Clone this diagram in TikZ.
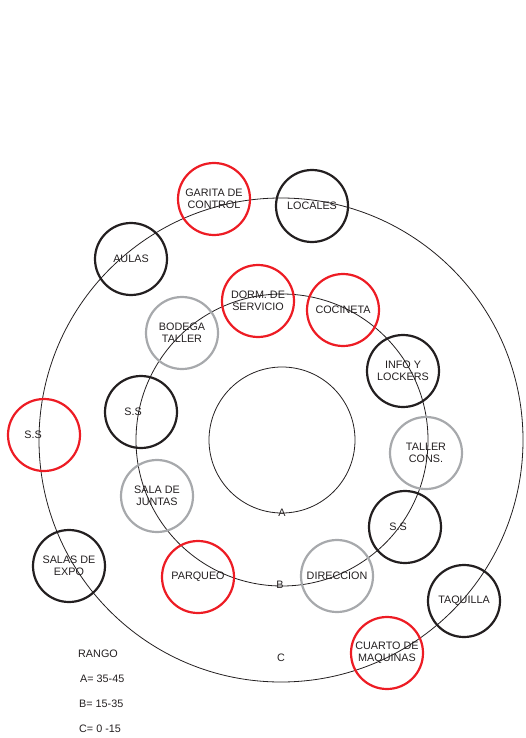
\documentclass[tikz,border=0pt]{standalone}
\usepackage{fontspec}
\setmainfont{Liberation Sans}
\usepackage{tikz}
\usetikzlibrary{positioning}
\definecolor{zonered}{HTML}{ED1C24}
\definecolor{zoneblack}{HTML}{231F20}
\definecolor{zonegray}{HTML}{A7A9AC}
\tikzstyle{ring}      = [circle, draw=zoneblack, line width=0.8pt, inner sep=0pt]
\tikzstyle{room}      = [circle, minimum size=72pt, inner sep=0pt,
    line width=2.2pt, align=center, text=zoneblack,
    font=\fontsize{10.8}{12}\selectfont]
\tikzstyle{redroom}   = [room, draw=zonered]
\tikzstyle{blackroom} = [room, draw=zoneblack]
\tikzstyle{grayroom}  = [room, draw=zonegray]
\tikzstyle{roomtext}  = [inner sep=0pt, text=zoneblack, font=\fontsize{10.8}{12}\selectfont]
\tikzstyle{legend}    = [roomtext, anchor=west]

\begin{document}
\begin{tikzpicture}[x=1pt, y=-1pt]
  \useasboundingbox (0,0) rectangle (525,738);
  % rings
  \node[ring, minimum size=146pt] (ringA) at (282,440) {};
  \node[ring, minimum size=292pt] (ringB) at (282,440) {};
  \node[ring, minimum size=484pt] (ringC) at (281,440) {};
  \node[roomtext] (labA) at (282,513) {A};
  \node[roomtext] (labB) at (280,585) {B};
  \node[roomtext] (labC) at (281,658) {C};

  % outer ring
  \node[redroom]   (garita)  at (214,199) {GARITA DE\\CONTROL};
  \node[blackroom] (locales) at (312,206) {LOCALES};
  \node[blackroom] (aulas)   at (131,259) {AULAS};
  \node[redroom]   (ssC)     at (44,435)  {};
  \node[roomtext, xshift=-11pt] at (ssC) {S.S};
  \node[blackroom] (expo)    at (69,566)  {SALAS DE\\EXPO};
  \node[blackroom] (taquilla) at (464,601) {TAQUILLA};
  \node[redroom]   (cuarto)  at (387,653) {CUARTO DE\\MAQUINAS};

  % middle ring
  \node[redroom]   (dorm)    at (258,301) {DORM. DE\\SERVICIO};
  \node[redroom]   (cocineta) at (343,310) {COCINETA};
  \node[grayroom]  (bodega)  at (182,333) {BODEGA\\TALLER};
  \node[blackroom] (info)    at (403,371) {INFO Y\\LOCKERS};
  \node[blackroom] (ssB)     at (141,412) {};
  \node[roomtext, xshift=-8pt] at (ssB) {S.S};
  \node[grayroom]  (tallerc) at (426,453) {TALLER\\CONS.};
  \node[grayroom]  (juntas)  at (157,496) {SALA DE\\JUNTAS};
  \node[blackroom] (ssA)     at (405,527) {};
  \node[roomtext, xshift=-7pt] at (ssA) {S.S};
  \node[redroom]   (parqueo) at (198,577) {PARQUEO};
  \node[grayroom]  (direccion) at (337,576) {DIRECCION};

  % legend
  \node[legend] (rango) at (78,654) {RANGO};
  \node[legend] (rangoA) at (80,679) {A= 35-45};
  \node[legend] (rangoB) at (79,704) {B= 15-35};
  \node[legend] (rangoC) at (79,729) {C= 0 -15};
\end{tikzpicture}
\end{document}
